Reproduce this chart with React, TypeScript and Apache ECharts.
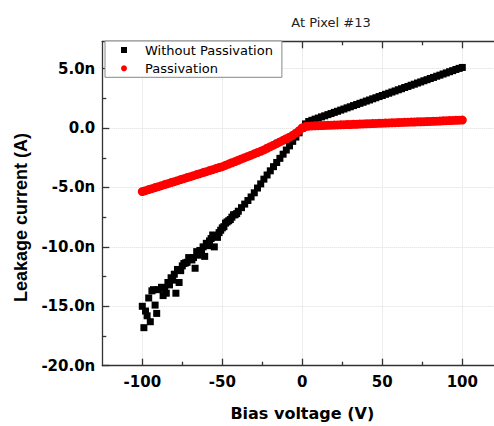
import React, { useEffect, useRef } from 'react';
import * as echarts from 'echarts';

// Bias voltage (V)
const voltages = [
  -100, -98, -96, -94, -92, -90, -88, -86, -84, -82, -80, -78, -76, -74, -72, -70, -68, -66, -64, -62,
  -60, -58, -56, -54, -52, -50, -48, -46, -44, -42, -40, -38, -36, -34, -32, -30, -28, -26, -24, -22,
  -20, -18, -16, -14, -12, -10, -8, -6, -4, -2, 0, 2, 4, 6, 8, 10, 12, 14, 16, 18,
  20, 22, 24, 26, 28, 30, 32, 34, 36, 38, 40, 42, 44, 46, 48, 50, 52, 54, 56, 58,
  60, 62, 64, 66, 68, 70, 72, 74, 76, 78, 80, 82, 84, 86, 88, 90, 92, 94, 96, 98, 100,
];

// Leakage current (nA), without passivation
const withoutPassivation = [
  -15.0, -15.4, -14.3, -13.7, -14.9, -13.6, -13.4, -13.5, -13.0, -12.6, -12.3, -11.9, -12.0, -11.4, -11.3, -11.0, -10.9, -10.4, -10.3, -10.0,
  -9.7, -9.5, -9.0, -9.1, -8.8, -8.4, -8.0, -7.8, -7.5, -7.3, -7.0, -6.7, -6.4, -6.1, -5.8, -5.45, -5.05, -4.7, -4.3, -3.95,
  -3.6, -3.25, -2.9, -2.55, -2.2, -1.85, -1.5, -1.12, -0.76, -0.4, -0.02, 0.35, 0.55, 0.65, 0.75, 0.84, 0.94, 1.03, 1.13, 1.22,
  1.32, 1.41, 1.51, 1.6, 1.7, 1.79, 1.89, 1.98, 2.08, 2.17, 2.27, 2.36, 2.46, 2.55, 2.65, 2.74, 2.84, 2.93, 3.03, 3.12,
  3.22, 3.31, 3.41, 3.5, 3.6, 3.69, 3.79, 3.88, 3.98, 4.07, 4.17, 4.26, 4.36, 4.45, 4.55, 4.64, 4.74, 4.83, 4.93, 5.02, 5.1,
];

// extra scattered readings (noisy region), without passivation
const noiseVoltages = [
  -99, -97, -95, -93, -91, -87, -85, -83, -81, -79, -77, -75, -73, -71,
  -69, -67, -65, -63, -61, -59, -57, -55, -53, -51, -49, -47, -45, -43, -41,
];
const noiseCurrents = [
  -16.8, -15.8, -16.3, -13.6, -15.6, -14.1, -13.9, -13.2, -12.8, -13.9, -13.0, -11.6, -11.35, -10.9,
  -11.1, -11.8, -10.7, -10.4, -10.8, -9.9, -9.3, -10.0, -9.2, -8.6, -8.3, -7.9, -7.7, -7.3, -7.2,
];

// Leakage current (nA), with passivation
const passivation = [
  -5.35, -5.27, -5.18, -5.1, -5.01, -4.93, -4.85, -4.76, -4.68, -4.59, -4.51, -4.43, -4.34, -4.26, -4.17, -4.09, -4.01, -3.92, -3.84, -3.75,
  -3.67, -3.58, -3.5, -3.41, -3.33, -3.25, -3.14, -3.03, -2.92, -2.82, -2.71, -2.6, -2.49, -2.39, -2.28, -2.17, -2.06, -1.96, -1.84, -1.7,
  -1.57, -1.44, -1.3, -1.17, -1.03, -0.9, -0.77, -0.61, -0.43, -0.22, 0.02, 0.12, 0.16, 0.18, 0.19, 0.2, 0.21, 0.22, 0.23, 0.24,
  0.25, 0.26, 0.27, 0.28, 0.29, 0.3, 0.31, 0.32, 0.34, 0.35, 0.36, 0.37, 0.38, 0.39, 0.4, 0.41, 0.42, 0.43, 0.44, 0.45,
  0.46, 0.47, 0.48, 0.49, 0.5, 0.51, 0.52, 0.53, 0.54, 0.55, 0.56, 0.57, 0.58, 0.59, 0.61, 0.62, 0.63, 0.64, 0.65, 0.66, 0.67,
];

const xMajorTicks = [-100, -50, 0, 50, 100];
const xMinorTicks = [-75, -25, 25, 75];
const yMajorTicks = [-20, -15, -10, -5, 0, 5];
const yMinorTicks = [-17.5, -12.5, -7.5, -2.5, 2.5];

const seriesNames = ['Without Passivation', 'Passivation'];
const titleText = 'At Pixel #13';
const xName = 'Bias voltage (V)';
const yName = 'Leakage current (A)';

const AXIS_COLOR = '#333';
const LABEL_FONT = 'DejaVu Sans';

export default function App() {
  const ref = useRef<HTMLDivElement>(null);

  useEffect(() => {
    if (!ref.current) return;
    const chart = echarts.init(ref.current, null, { renderer: 'svg' });

    const blackData = noiseVoltages
      .map((v, i) => [v, noiseCurrents[i]])
      .concat(voltages.map((v, i) => [v, withoutPassivation[i]]));
    const redData = voltages.map((v, i) => [v, passivation[i]]);

    const xBase = {
      type: 'value' as const,
      min: -125,
      max: 125,
      interval: 25,
      axisLine: { onZero: false, show: false, lineStyle: { color: AXIS_COLOR, width: 1.3 } },
      axisLabel: { show: false },
      splitLine: { show: false },
    };
    const yBase = {
      type: 'value' as const,
      min: -20,
      max: 7.3,
      interval: 5,
      axisLine: { onZero: false, show: false, lineStyle: { color: AXIS_COLOR, width: 1.3 } },
      axisLabel: { show: false },
      splitLine: { show: false },
    };

    chart.setOption({
      animation: false,
      backgroundColor: '#fff',
      title: {
        text: titleText,
        left: 326,
        top: 11,
        textAlign: 'center',
        textStyle: { fontFamily: LABEL_FONT, fontWeight: 'normal', fontSize: 13, color: '#222' },
      },
      legend: {
        orient: 'vertical',
        left: 105,
        top: 41,
        padding: [2, 9, 2, 16],
        itemGap: 4.3,
        itemWidth: 6,
        itemHeight: 6,
        borderColor: '#888',
        borderWidth: 1,
        backgroundColor: '#fff',
        symbolKeepAspect: true,
        textStyle: {
          fontFamily: LABEL_FONT,
          fontSize: 13,
          color: '#000',
          lineHeight: 14,
          padding: [0, 0, 0, 13],
        },
        data: [
          { name: seriesNames[0], icon: 'path://M0,0H10V10H0Z' },
          { name: seriesNames[1], icon: 'circle' },
        ],
      },
      grid: {
        left: 102.3,
        top: 41.3,
        right: -8.3,
        bottom: 60.3,
        containLabel: false,
        outerBoundsMode: 'none',
      },
      xAxis: [
        {
          ...xBase,
          position: 'bottom',
          name: xName,
          nameLocation: 'middle',
          nameGap: 40,
          nameTextStyle: { fontFamily: LABEL_FONT, fontWeight: 'bold', fontSize: 16, color: '#000' },
          axisLine: { onZero: false, show: true, lineStyle: { color: AXIS_COLOR, width: 1.3 } },
          axisTick: { inside: true, length: 7, customValues: xMajorTicks, lineStyle: { color: AXIS_COLOR, width: 1.3 } },
          axisLabel: {
            show: true,
            customValues: xMajorTicks,
            margin: 9,
            fontFamily: LABEL_FONT,
            fontWeight: 'bold',
            fontSize: 15,
            color: '#000',
          },
          splitLine: { show: true, lineStyle: { color: '#dcdcdc', type: 'dotted', width: 1 } },
        },
        {
          ...xBase,
          position: 'bottom',
          axisTick: { inside: true, length: 4, customValues: xMinorTicks, lineStyle: { color: AXIS_COLOR, width: 1.3 } },
        },
        {
          ...xBase,
          position: 'top',
          axisLine: { onZero: false, show: true, lineStyle: { color: AXIS_COLOR, width: 1.3 } },
          axisTick: { inside: true, length: 7, customValues: xMajorTicks, lineStyle: { color: AXIS_COLOR, width: 1.3 } },
        },
        {
          ...xBase,
          position: 'top',
          axisTick: { inside: true, length: 4, customValues: xMinorTicks, lineStyle: { color: AXIS_COLOR, width: 1.3 } },
        },
      ],
      yAxis: [
        {
          ...yBase,
          position: 'left',
          name: yName,
          nameLocation: 'middle',
          nameRotate: 90,
          nameGap: 69,
          nameTextStyle: {
            fontFamily: 'Liberation Sans',
            fontWeight: 'bold',
            fontSize: 18,
            color: '#000',
            padding: [0, 28, 0, 0],
          },
          axisLine: { onZero: false, show: true, lineStyle: { color: AXIS_COLOR, width: 1.3 } },
          axisTick: { inside: true, length: 7, customValues: yMajorTicks, lineStyle: { color: AXIS_COLOR, width: 1.3 } },
          axisLabel: {
            show: true,
            customValues: yMajorTicks,
            margin: 7,
            fontFamily: LABEL_FONT,
            fontWeight: 'bold',
            fontSize: 15,
            color: '#000',
            formatter: (v: number) => (v === 0 ? '0.0' : v.toFixed(1) + 'n'),
          },
          splitLine: { show: true, lineStyle: { color: '#dcdcdc', type: 'dotted', width: 1 } },
        },
        {
          ...yBase,
          position: 'left',
          axisTick: { inside: true, length: 4, customValues: yMinorTicks, lineStyle: { color: AXIS_COLOR, width: 1.3 } },
        },
      ],
      series: [
        {
          name: seriesNames[0],
          type: 'scatter',
          xAxisIndex: 0,
          yAxisIndex: 0,
          symbol: 'rect',
          symbolSize: 7,
          itemStyle: { color: '#000', opacity: 1 },
          data: blackData,
          z: 2,
        },
        {
          name: seriesNames[1],
          type: 'scatter',
          xAxisIndex: 0,
          yAxisIndex: 0,
          symbol: 'circle',
          symbolSize: 9,
          itemStyle: { color: '#ff0000', opacity: 1 },
          data: redData,
          z: 3,
        },
      ],
    });

    return () => {
      chart.dispose();
    };
  }, []);

  return (
    <div
      ref={ref}
      style={{ position: 'absolute', left: 0, top: 0, width: 494, height: 426, background: '#fff' }}
    />
  );
}
